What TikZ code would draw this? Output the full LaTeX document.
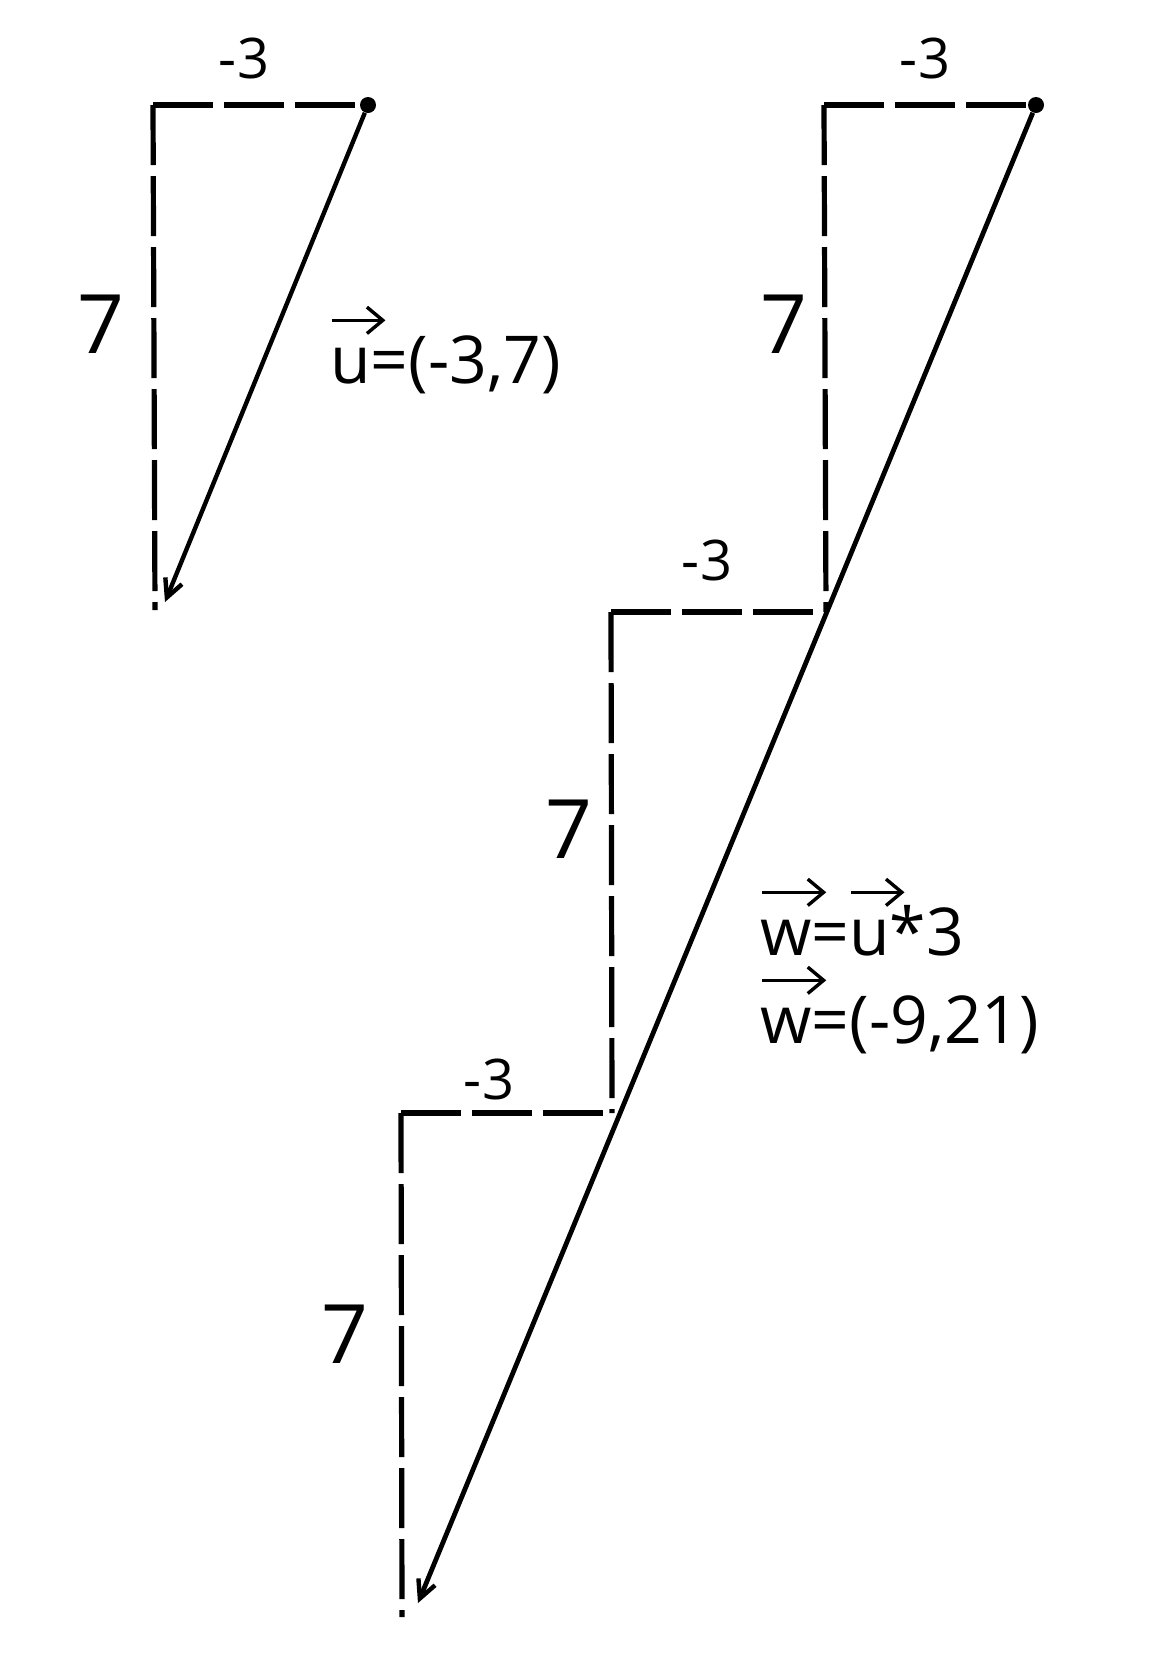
\documentclass[tikz,border=0pt]{standalone}
\usepackage{fontspec}
\setmainfont{Open Sans}
\usetikzlibrary{arrows.meta}
\newcommand{\vecarr}[1]{\tikz[baseline=(v.base),x=1pt,y=1pt]{\node[inner sep=0pt,outer sep=0pt] (v) {#1};\draw[overlay,line width=1.7pt,-{Straight Barb[length=0.24em,width=0.4em]}] ([xshift=0.02em,yshift=0.95em]v.base west) -- ([xshift=0.22em,yshift=0.95em]v.base east);}}
\begin{document}
\begin{tikzpicture}[x=0.5pt,y=-0.5pt,
  dashline/.style={line width=2.6pt,dash pattern=on 30pt off 5.5pt},
  vecline/.style={line width=2.2pt,-{Straight Barb[length=9pt,width=9pt,line width=2.2pt]}},
  dot/.style={circle,fill=black,inner sep=0pt,minimum size=8pt},
  numlab/.style={font=\fontsize{41}{48}\selectfont},
  minlab/.style={font=\fontsize{28}{32}\selectfont},
  eqlab/.style={font=\fontsize{33}{40}\selectfont,align=left}]
\useasboundingbox (0,0) rectangle (1152,1667);
% left vector
\node[dot] (u0) at (368,105) {};
\coordinate (uc) at (153,105);
\coordinate (ub) at (155,610);
\coordinate (ue) at (165,602);
\draw[dashline] (uc) -- (u0);
\draw[dashline] (uc) -- (ub);
\draw[vecline] (u0) -- (ue);
\node[minlab] (l1) at (244,58) {-3};
\node[numlab] (l2) at (101,324) {7};
\node[eqlab,anchor=base west,inner sep=0pt] (l3) at (330,383) {\vecarr{u}=(-3,7)};
% right vector
\node[dot] (w0) at (1036,105) {};
\coordinate (c1) at (824,105);
\coordinate (b1) at (826,612);
\coordinate (c2) at (611,612);
\coordinate (b2) at (612,1113);
\coordinate (c3) at (401,1113);
\coordinate (b3) at (402,1617);
\coordinate (we) at (418,1603);
\draw[dashline] (c1) -- (w0);
\draw[dashline] (c1) -- (b1);
\draw[dashline] (c2) -- (b1);
\draw[dashline] (c2) -- (b2);
\draw[dashline] (c3) -- (b2);
\draw[dashline] (c3) -- (b3);
\draw[vecline,line width=2.4pt] (w0) -- (we);
\node[minlab] (r1) at (925,58) {-3};
\node[numlab] (r2) at (784,324) {7};
\node[minlab] (r3) at (707,560) {-3};
\node[numlab] (r4) at (569,829) {7};
\node[minlab] (r5) at (489,1079) {-3};
\node[numlab] (r6) at (345,1334) {7};
\node[eqlab,anchor=base west,inner sep=0pt] (r7) at (760,955) {\vecarr{w}=\vecarr{u}*3};
\node[eqlab,anchor=base west,inner sep=0pt] (r8) at (760,1043) {\vecarr{w}=(-9,21)};
\end{tikzpicture}
\end{document}
